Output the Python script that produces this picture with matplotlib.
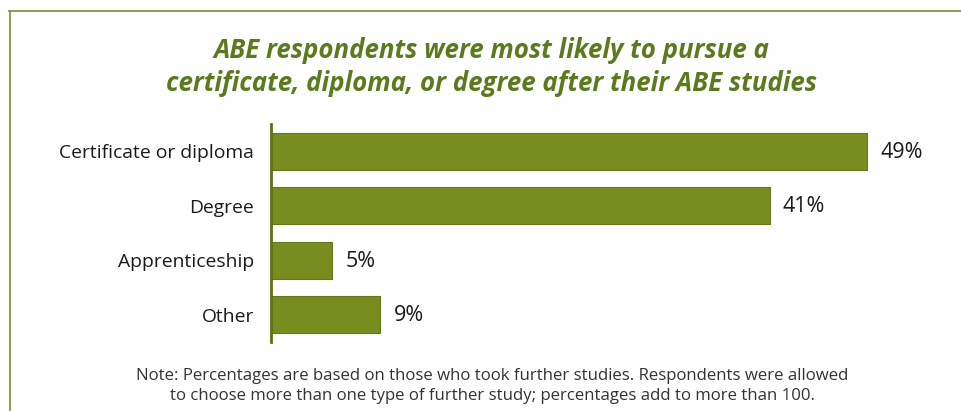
import matplotlib
matplotlib.use("Agg")
import matplotlib.pyplot as plt
from matplotlib.lines import Line2D

categories = ["Certificate or diploma", "Degree", "Apprenticeship", "Other"]
percentages = [49, 41, 5, 9]
value_labels = ["49%", "41%", "5%", "9%"]

title = ("ABE respondents were most likely to pursue a\n"
         "certificate, diploma, or degree after their ABE studies")
note = ("Note: Percentages are based on those who took further studies. Respondents were allowed\n"
        "to choose more than one type of further study; percentages add to more than 100.")

W, H = 961, 411
bar_color = "#788c1f"
edge_color = "#66791a"
axis_color = "#5c7012"
title_color = "#5b7a1e"
frame_color = "#7a8b3a"
text_color = "#1a1a1a"

plt.rcParams["font.family"] = ["Open Sans", "DejaVu Sans"]

fig = plt.figure(figsize=(W / 100, H / 100), dpi=100)

# frame along the top and left edges
fig.add_artist(Line2D([9.5 / W, 9.5 / W], [0, 1 - 11 / H], color=frame_color, lw=1.2))
fig.add_artist(Line2D([9 / W, 1], [1 - 11 / H, 1 - 11 / H], color=frame_color, lw=1.2))

ax_left, ax_top, ax_bottom = 271, 124, 342
px_per_pct = 12.16
xmax = 55
ax = fig.add_axes([ax_left / W, 1 - ax_bottom / H,
                   xmax * px_per_pct / W, (ax_bottom - ax_top) / H])

ypos = list(range(len(categories)))
ax.barh(ypos, percentages, height=0.68, color=bar_color,
        edgecolor=edge_color, linewidth=0.8)
ax.set_xlim(0, xmax)
ax.set_ylim(len(categories) - 0.5, -0.5)

for y, v, lab in zip(ypos, percentages, value_labels):
    ax.text(v + 1.1, y + 0.02, lab, va="center", ha="left", fontsize=15.5,
            color=text_color, clip_on=False)

ax.set_yticks(ypos)
ax.set_yticklabels(categories, fontsize=13.9, color=text_color)
ax.tick_params(axis="y", length=0, pad=12)
ax.set_xticks([])
for side in ["top", "right", "bottom"]:
    ax.spines[side].set_visible(False)
ax.spines["left"].set_color(axis_color)
ax.spines["left"].set_linewidth(2)

fig.text(492 / W, 1 - 67 / H, title, ha="center", va="center", fontsize=18.6,
         fontweight="bold", fontstyle="italic", color=title_color, linespacing=1.25)
fig.text(492 / W, 1 - 386 / H, note, ha="center", va="center", fontsize=12.1,
         color="#333333", linespacing=1.35)

fig.savefig("out.png", dpi=100)
